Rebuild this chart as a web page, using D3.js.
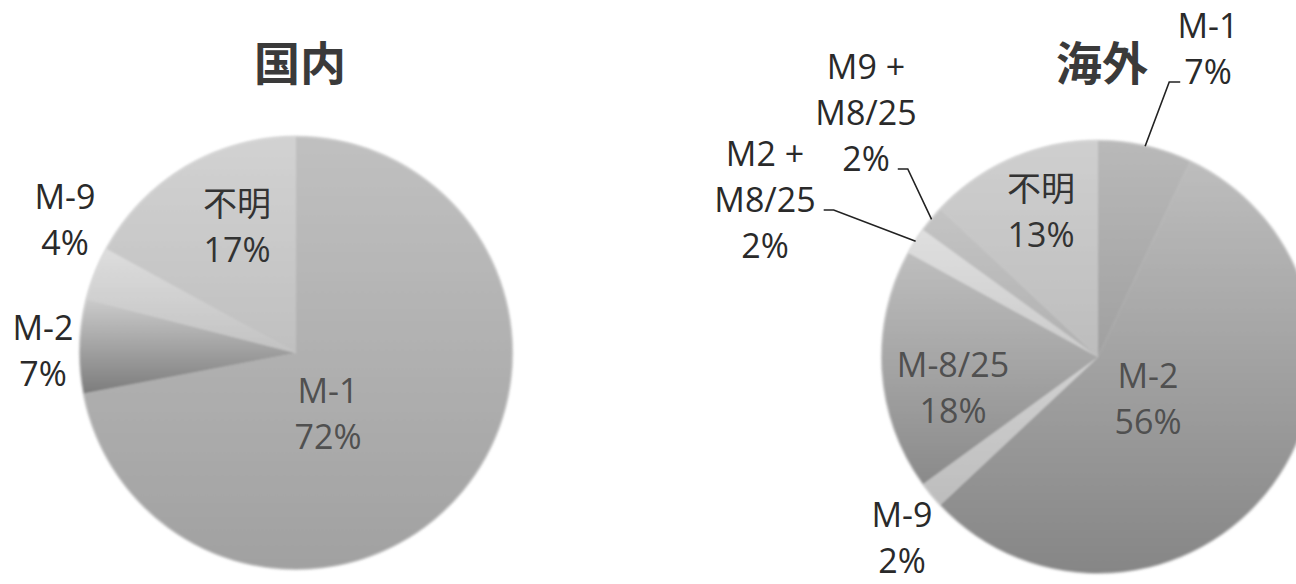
<!DOCTYPE html>
<html>
<head>
<meta charset="utf-8">
<script src="https://cdn.jsdelivr.net/npm/d3@7"></script>
<style>
  html, body { margin: 0; padding: 0; background: #ffffff; }
  svg { display: block; }
  text { font-family: "Open Sans", "Noto Sans CJK JP", sans-serif; }
</style>
</head>
<body>
<svg id="chart" width="1296" height="584"></svg>
<script>
// ---------------- data ----------------
const leftTitle = "国内";
const leftCategories = ["M-1", "M-2", "M-9", "不明"];
const leftValues = [72, 7, 4, 17];

const rightTitle = "海外";
const rightCategories = ["M-1", "M-2", "M-9", "M-8/25", "M2 +|M8/25", "M9 +|M8/25", "不明"];
const rightValues = [7, 56, 2, 18, 2, 2, 13];

// ---------------- styles / layout ----------------
const leftColors = [["#c0c0c0", "#a1a1a1"], ["#cbcbcb", "#7c7c7c"], ["#dddddd", "#c2c2c2"], ["#d2d2d2", "#c0c0c0"]];
const rightColors = [["#b9b9b9", "#a0a0a0"], ["#bdbdbd", "#868686"], ["#d2d2d2", "#bdbdbd"],
                     ["#bebebe", "#8a8a8a"], ["#dfdfdf", "#cbcbcb"], ["#c4c4c4", "#b0b0b0"], ["#cfcfcf", "#bdbdbd"]];

const leftLayout = {
  cx: 296, cy: 353, r: 216, titleX: 300, titleY: 62,
  labels: [
    { x: 328, y: 390, color: "#505050" },
    { x: 43,  y: 327, color: "#2a2a2a" },
    { x: 65,  y: 196, color: "#2a2a2a" },
    { x: 237, y: 203, color: "#333333" }
  ]
};
const rightLayout = {
  cx: 1098, cy: 357, r: 216, titleX: 1102, titleY: 62,
  labels: [
    { x: 1208, y: 25,  color: "#2a2a2a", leader: { line: 1, side: "left" } },
    { x: 1148, y: 375, color: "#505050" },
    { x: 902,  y: 514, color: "#2a2a2a" },
    { x: 953,  y: 364, color: "#505050" },
    { x: 765,  y: 153, color: "#2a2a2a", leader: { line: 1, side: "right" } },
    { x: 866,  y: 66,  color: "#2a2a2a", leader: { line: 2, side: "right" } },
    { x: 1041, y: 188, color: "#333333" }
  ]
};

const FONT_SIZE = 34;
const LINE_GAP = 46;

const svg = d3.select("#chart");
const defs = svg.append("defs");

// soft edge filter
const soft = defs.append("filter").attr("id", "soft").attr("x", "-10%").attr("y", "-10%").attr("width", "120%").attr("height", "120%");
soft.append("feGaussianBlur").attr("stdDeviation", 0.9);

function drawPie(id, title, categories, values, colors, layout) {
  const pie = d3.pie().sort(null).value(d => d)(values);
  const arc = d3.arc().innerRadius(0).outerRadius(layout.r);
  const edgeArc = d3.arc().innerRadius(layout.r).outerRadius(layout.r);

  const g = svg.append("g").attr("transform", `translate(${layout.cx},${layout.cy})`);

  // shadow
  g.append("circle").attr("r", layout.r + 1.5).attr("fill", "#9a9a9a").attr("opacity", 0.35)
    .attr("filter", "url(#soft)");

  colors.forEach((c, i) => {
    const lg = defs.append("linearGradient").attr("id", `${id}-g${i}`)
      .attr("x1", 0).attr("y1", 0).attr("x2", 0).attr("y2", 1);
    lg.append("stop").attr("offset", "0%").attr("stop-color", c[0]);
    lg.append("stop").attr("offset", "100%").attr("stop-color", c[1]);
  });

  g.append("g").attr("filter", "url(#soft)")
    .selectAll("path").data(pie).join("path")
    .attr("d", arc)
    .attr("fill", (d, i) => `url(#${id}-g${i})`);

  // title
  svg.append("text")
    .attr("x", layout.titleX).attr("y", layout.titleY)
    .attr("text-anchor", "middle").attr("dominant-baseline", "central")
    .attr("font-family", "'Noto Sans CJK JP', sans-serif")
    .attr("font-weight", "bold").attr("font-size", 46).attr("fill", "#3a3a3a")
    .text(title);

  // labels
  pie.forEach((d, i) => {
    const lay = layout.labels[i];
    const lines = categories[i].split("|").concat([values[i] + "%"]);
    const texts = lines.map((t, k) => svg.append("text")
      .attr("x", lay.x).attr("y", lay.y + k * LINE_GAP)
      .attr("text-anchor", "middle").attr("dominant-baseline", "central")
      .attr("font-size", FONT_SIZE).attr("fill", lay.color)
      .text(t));
    if (lay.leader) {
      const bb = texts[lay.leader.line].node().getBBox();
      const ly = lay.y + lay.leader.line * LINE_GAP + 11;
      const x0 = lay.leader.side === "left" ? bb.x - 4 : bb.x + bb.width + 8;
      const x1 = lay.leader.side === "left" ? x0 - 11 : x0 + 10;
      const e = edgeArc.centroid(d);
      svg.append("path")
        .attr("d", d3.line()([[x0, ly], [x1, ly], [layout.cx + e[0], layout.cy + e[1]]]))
        .attr("fill", "none").attr("stroke", "#222").attr("stroke-width", 1.6);
    }
  });
}

drawPie("L", leftTitle, leftCategories, leftValues, leftColors, leftLayout);
drawPie("R", rightTitle, rightCategories, rightValues, rightColors, rightLayout);
</script>
</body>
</html>
